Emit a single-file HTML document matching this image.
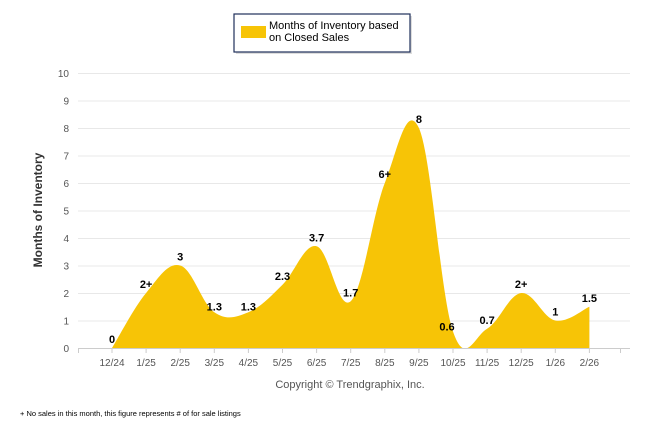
<!DOCTYPE html>
<html><head><meta charset="utf-8"><style>
body{margin:0;background:#fff;width:646px;height:434px;overflow:hidden;font-family:"Liberation Sans",sans-serif}
</style></head><body>
<svg id="s" width="646" height="434" xmlns="http://www.w3.org/2000/svg" font-family="Liberation Sans, sans-serif">
<rect x="236" y="16" width="176" height="38" fill="#ddd"/>
<rect x="234" y="14" width="176" height="38" fill="#fff" stroke="#1f2f5a" stroke-width="1.2"/>
<rect x="241" y="26" width="25" height="12" fill="#f7c406"/>
<text x="269" y="29" font-size="11" fill="#000">Months of Inventory based</text>
<text x="269" y="41" font-size="11" fill="#000">on Closed Sales</text>
<g id="grid" stroke="#e8e8e8" stroke-width="1"></g>
<g id="yl" font-size="10" fill="#555" text-anchor="end"></g>
<path id="area" fill="#f7c406"/>
<line x1="78" y1="348.5" x2="630" y2="348.5" stroke="#ccc"/>
<g id="ticks" stroke="#ccc"></g>
<g id="xl" font-size="10" fill="#555" text-anchor="middle"></g>
<g id="dl" font-size="11" font-weight="bold" fill="#000" text-anchor="middle"></g>
<text transform="translate(42,210) rotate(-90)" font-size="12" font-weight="bold" fill="#333" text-anchor="middle">Months of Inventory</text>
<text x="350" y="388" font-size="11" fill="#555" text-anchor="middle">Copyright © Trendgraphix, Inc.</text>
<text x="20" y="416" font-size="7.5" fill="#000">+  No sales in this month, this figure represents # of for sale listings</text>
</svg>
<script>
var NS="http://www.w3.org/2000/svg";
function el(p,t,a,txt){var e=document.createElementNS(NS,t);for(var k in a)e.setAttribute(k,a[k]);if(txt!=null)e.textContent=txt;document.getElementById(p).appendChild(e);}
function Y(v){return 348-v*27.5;}
for(var i=1;i<=10;i++)el("grid","line",{x1:78,x2:630,y1:Y(i)+.5,y2:Y(i)+.5});
for(var i=0;i<=10;i++)el("yl","text",{x:69,y:Y(i)+4},i);
var cats=["12/24","1/25","2/25","3/25","4/25","5/25","6/25","7/25","8/25","9/25","10/25","11/25","12/25","1/26","2/26"];
var vals=[0,2,3,1.3,1.3,2.3,3.7,1.7,6,8,0.6,0.7,2,1,1.5];
var labs=["0","2+","3","1.3","1.3","2.3","3.7","1.7","6+","8","0.6","0.7","2+","1","1.5"];
var dx=34.1,x0=112;
var P=vals.map(function(v,i){return [x0+i*dx,Y(v)];});
el("ticks","line",{x1:78.5,x2:78.5,y1:348,y2:353});
el("ticks","line",{x1:620.5,x2:620.5,y1:348,y2:353});
for(var i=0;i<15;i++)el("ticks","line",{x1:x0+i*dx,x2:x0+i*dx,y1:348,y2:353});
cats.forEach(function(c,i){el("xl","text",{x:x0+i*dx,y:366},c);});
var d="M"+P[0][0]+","+P[0][1];
for(var i=0;i<P.length-1;i++){var p0=P[Math.max(0,i-1)],p1=P[i],p2=P[i+1],p3=P[Math.min(P.length-1,i+2)];
var t=1/5.5;
var c1=[p1[0]+(p2[0]-p0[0])*t,p1[1]+(p2[1]-p0[1])*t],c2=[p2[0]-(p3[0]-p1[0])*t,p2[1]-(p3[1]-p1[1])*t];
d+=" C"+c1+" "+c2+" "+p2;}
d+=" L"+P[P.length-1][0]+",348 L"+P[0][0]+",348Z";
document.getElementById("area").setAttribute("d",d);
var off={3:[0,3],4:[0,3],10:[-6,4],11:[0,0],7:[0,0]};
labs.forEach(function(l,i){var o=off[i]||[0,0];el("dl","text",{x:P[i][0]+o[0],y:P[i][1]-5+o[1]},l);});
</script>
</body></html>
